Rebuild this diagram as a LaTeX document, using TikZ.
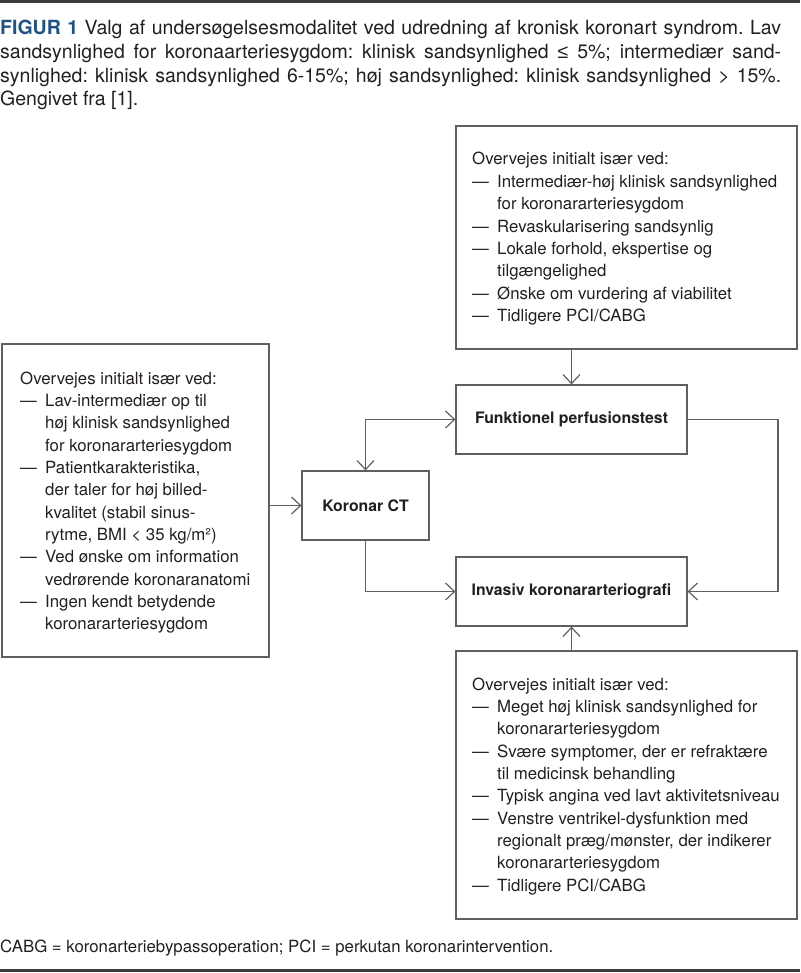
\documentclass[tikz,border=0pt]{standalone}
\usepackage{fontspec}
\setmainfont{TeX Gyre Heros}
\newfontfamily\symf{Liberation Sans}
\usetikzlibrary{arrows.meta}
\definecolor{txt}{RGB}{35,31,32}
\definecolor{figblue}{RGB}{32,82,135}
\definecolor{boxline}{RGB}{95,95,95}
\definecolor{rulecol}{RGB}{60,60,60}
\newcommand{\bitem}{\makebox[25pt][l]{—}}
\newcommand{\bcont}{\hspace*{25pt}}
\frenchspacing
\begin{document}
\begin{tikzpicture}[x=1pt,y=-1pt,
  box/.style={draw=boxline, line width=1.2pt, rectangle, inner sep=0pt},
  lbl/.style={font=\fontsize{15.8}{19}\selectfont\bfseries, text=txt},
  body/.style={anchor=base west, inner sep=0pt, text=txt, font=\fontsize{16.8}{22.35}\selectfont},
  conn/.style={draw=boxline, line width=1.2pt, -{Straight Barb[length=9pt,width=17pt]}},
  dconn/.style={draw=boxline, line width=1.2pt, {Straight Barb[length=9pt,width=17pt]}-{Straight Barb[length=9pt,width=17pt]}},
]
\useasboundingbox (0,0) rectangle (800,973);

% rules
\fill[rulecol] (0,0) rectangle (800,3);
\fill[rulecol] (0,969) rectangle (800,972);

% caption
\node[anchor=base west, inner sep=0pt, text=txt, font=\fontsize{19.5}{23.6}\selectfont] (cap) at (0,35) {\begin{tabular}[t]{@{}l@{}}
\makebox[781pt][s]{{\color{figblue}\bfseries FIGUR 1} Valg af undersøgelsesmodalitet ved udredning af kronisk koronart syndrom. Lav}\\
\makebox[781pt][s]{sandsynlighed for koronaarteriesygdom: klinisk sandsynlighed {\symf ≤} 5\%; intermediær sand-}\\
\makebox[781pt][s]{synlighed: klinisk sandsynlighed 6-15\%; høj sandsynlighed: klinisk sandsynlighed > 15\%.}\\
Gengivet fra [1].
\end{tabular}};

% boxes
\node[box, minimum width=341pt, minimum height=223pt] (T) at (626.5,237.5) {};
\node[box, minimum width=231pt, minimum height=69pt, lbl] (F) at (571.5,419.5) {Funktionel perfusionstest};
\node[box, minimum width=127pt, minimum height=69pt, lbl] (K) at (365.5,505.5) {Koronar CT};
\node[box, minimum width=231pt, minimum height=69pt, lbl] (I) at (571.5,591.5) {Invasiv koronararteriografi};
\node[box, minimum width=267pt, minimum height=313pt] (L) at (135.5,500.5) {};
\node[box, minimum width=341pt, minimum height=268pt] (B) at (626.5,785) {};

% box texts
\node[body] (Tt) at (472,165) {\begin{tabular}[t]{@{}l@{}}
Overvejes initialt især ved:\\
\bitem Intermediær-høj klinisk sandsynlighed\\
\bcont for koronararteriesygdom\\
\bitem Revaskularisering sandsynlig\\
\bitem Lokale forhold, ekspertise og\\
\bcont tilgængelighed\\
\bitem Ønske om vurdering af viabilitet\\
\bitem Tidligere PCI/CABG
\end{tabular}};

\node[body] (Lt) at (20,384) {\begin{tabular}[t]{@{}l@{}}
Overvejes initialt især ved:\\
\bitem Lav-intermediær op til\\
\bcont høj klinisk sandsynlighed\\
\bcont for koronararteriesygdom\\
\bitem Patientkarakteristika,\\
\bcont der taler for høj billed-\\
\bcont kvalitet (stabil sinus-\\
\bcont rytme, BMI < 35 kg/m²)\\
\bitem Ved ønske om information\\
\bcont vedrørende koronaranatomi\\
\bitem Ingen kendt betydende\\
\bcont koronararteriesygdom
\end{tabular}};

\node[body] (Bt) at (472,690) {\begin{tabular}[t]{@{}l@{}}
Overvejes initialt især ved:\\
\bitem Meget høj klinisk sandsynlighed for\\
\bcont koronararteriesygdom\\
\bitem Svære symptomer, der er refraktære\\
\bcont til medicinsk behandling\\
\bitem Typisk angina ved lavt aktivitetsniveau\\
\bitem Venstre ventrikel-dysfunktion med\\
\bcont regionalt præg/mønster, der indikerer\\
\bcont koronararteriesygdom\\
\bitem Tidligere PCI/CABG
\end{tabular}};

% footnote
\node[body] (fn) at (0,952) {CABG = koronarteriebypassoperation; PCI = perkutan koronarintervention.};

% connectors
\draw[conn] (T.south -| F.north) -- (F.north);
\draw[conn] (B.north -| I.south) -- (I.south);
\draw[dconn] (K.north) |- (F.west);
\draw[conn] (L.east |- K.west) -- (K.west);
\draw[conn] (K.south) |- (I.west);
\coordinate (R) at (778,419.5);
\draw[conn] (F.east) -- (R) |- (I.east);
\end{tikzpicture}
\end{document}
